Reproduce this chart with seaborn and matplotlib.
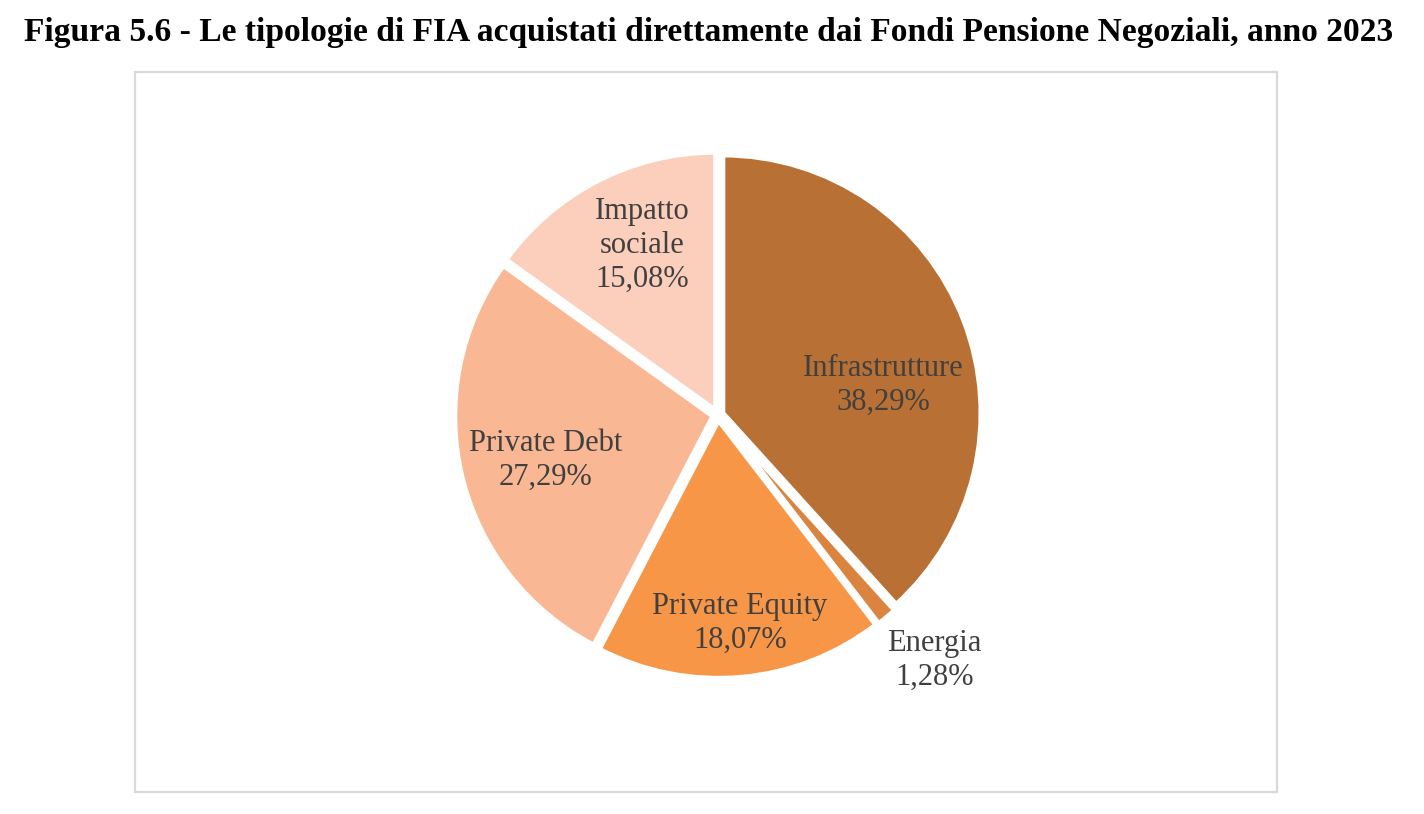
import numpy as np
import matplotlib.pyplot as plt
import matplotlib.patches as mpatches
import seaborn as sns

# dati (quote % dei FIA acquistati direttamente)
categorie = ['Infrastrutture', 'Energia', 'Private Equity', 'Private Debt', 'Impatto\nsociale']
quote = [38.29, 1.28, 18.07, 27.29, 15.08]
etichette_pct = ['38,29%', '1,28%', '18,07%', '27,29%', '15,08%']

colori = ['#B87034', '#DA8440', '#F79646', '#F9B793', '#FBCFBB']

sns.set_theme(style="white")
plt.rcParams['font.family'] = ['Liberation Serif', 'DejaVu Serif']

fig = plt.figure(figsize=(14.24, 8.14), dpi=100)
fig.patch.set_facecolor('white')

# cornice grigia dell'area grafico
fig.add_artist(mpatches.Rectangle((135 / 1424, 1 - 792 / 814), (1277 - 135) / 1424, (792 - 72) / 814,
                                  transform=fig.transFigure, fill=False,
                                  edgecolor='#D9D9D9', linewidth=1.6))

fig.text(0.4976, 1 - 33 / 814,
         'Figura 5.6 - Le tipologie di FIA acquistati direttamente dai Fondi Pensione Negoziali, anno 2023',
         ha='center', va='center', fontsize=24.1, fontweight='bold', color='black')

ax = fig.add_axes([390.5 / 1424, 1 - 742.5 / 814, 655 / 1424, 655 / 814])
wedges, _ = ax.pie(quote, colors=colori, startangle=90, counterclock=False,
                   explode=[0.02] * len(quote), radius=0.985,
                   wedgeprops=dict(edgecolor='white', linewidth=3.5))
ax.set_xlim(-1.25, 1.25)
ax.set_ylim(-1.25, 1.25)
ax.set_aspect('equal')
ax.axis('off')

# posizione etichette: distanza dal centro e piccolo scarto angolare (stile Excel)
dist = [0.64, 1.25, 0.80, 0.68, 0.71]
scarto = [-11, 1.5, 1, 1.3, -3]
for w, cat, pct, d, s in zip(wedges, categorie, etichette_pct, dist, scarto):
    ang = np.deg2rad((w.theta1 + w.theta2) / 2 + s)
    ax.text(d * np.cos(ang), d * np.sin(ang), cat + '\n' + pct,
            ha='center', va='center', fontsize=22, color='#404040', linespacing=1.22)

plt.savefig('out.png', dpi=100)
